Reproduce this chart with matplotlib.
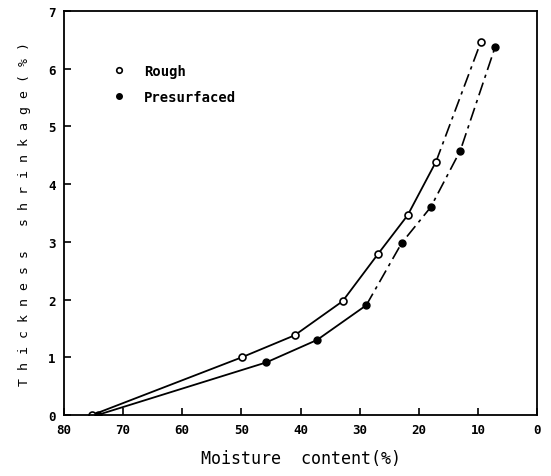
import numpy as np
import matplotlib.pyplot as plt
from matplotlib.lines import Line2D

# data
rough_x = [75.2, 49.9, 41.0, 32.9, 26.9, 21.9, 17.1, 9.5]
rough_y = [0.0, 1.0, 1.38, 1.97, 2.79, 3.46, 4.39, 6.47]
pres_x = [74.3, 45.8, 37.2, 28.9, 22.9, 18.0, 13.0, 7.1]
pres_y = [0.0, 0.91, 1.30, 1.90, 2.98, 3.60, 4.58, 6.38]
x_ticks = [80, 70, 60, 50, 40, 30, 20, 10, 0]
y_ticks = [0, 1, 2, 3, 4, 5, 6, 7]

plt.rcParams['font.family'] = ['DejaVu Sans Mono']
plt.rcParams['font.weight'] = 'bold'

fig = plt.figure(figsize=(5.51, 4.77), dpi=100)
ax = fig.add_axes([0.116, 0.128, 0.859, 0.847])

# solid part of the curves
ax.plot(rough_x[:7], rough_y[:7], color='black', lw=1.3)
ax.plot(pres_x[:4], pres_y[:4], color='black', lw=1.3)
# dashed upper part
ax.plot(rough_x[6:], rough_y[6:], color='black', lw=1.2, ls=(0, (8, 3, 2, 3)))
ax.plot(pres_x[3:], pres_y[3:], color='black', lw=1.2, ls=(0, (8, 3, 2, 3)))

ax.plot(rough_x, rough_y, 'o', ms=5, mfc='white', mec='black', mew=1.2, ls='none')
ax.plot(pres_x, pres_y, 'o', ms=5, mfc='black', mec='black', ls='none')

ax.set_xlim(80, 0)
ax.set_ylim(0, 7)
ax.set_xticks(x_ticks)
ax.set_yticks(y_ticks)
ax.tick_params(direction='in', length=5, width=1.2, labelsize=9, pad=6)
ax.tick_params(top=False, right=False)
for sp in ax.spines.values():
    sp.set_linewidth(1.3)

ax.set_xlabel('Moisture  content(%)', fontsize=12, labelpad=9)
ax.set_ylabel('T h i c k n e s s   s h r i n k a g e ( % )', fontsize=9.5, labelpad=12)

handles = [
    Line2D([], [], marker='o', ls='none', ms=4, mfc='white', mec='black', mew=1.2),
    Line2D([], [], marker='o', ls='none', ms=4, mfc='black', mec='black'),
]
ax.legend(handles, ['Rough', 'Presurfaced'], loc='upper left',
          bbox_to_anchor=(0.06, 0.9), frameon=False, fontsize=10,
          handletextpad=0.8, labelspacing=0.9)

fig.savefig('out.png', dpi=100)
